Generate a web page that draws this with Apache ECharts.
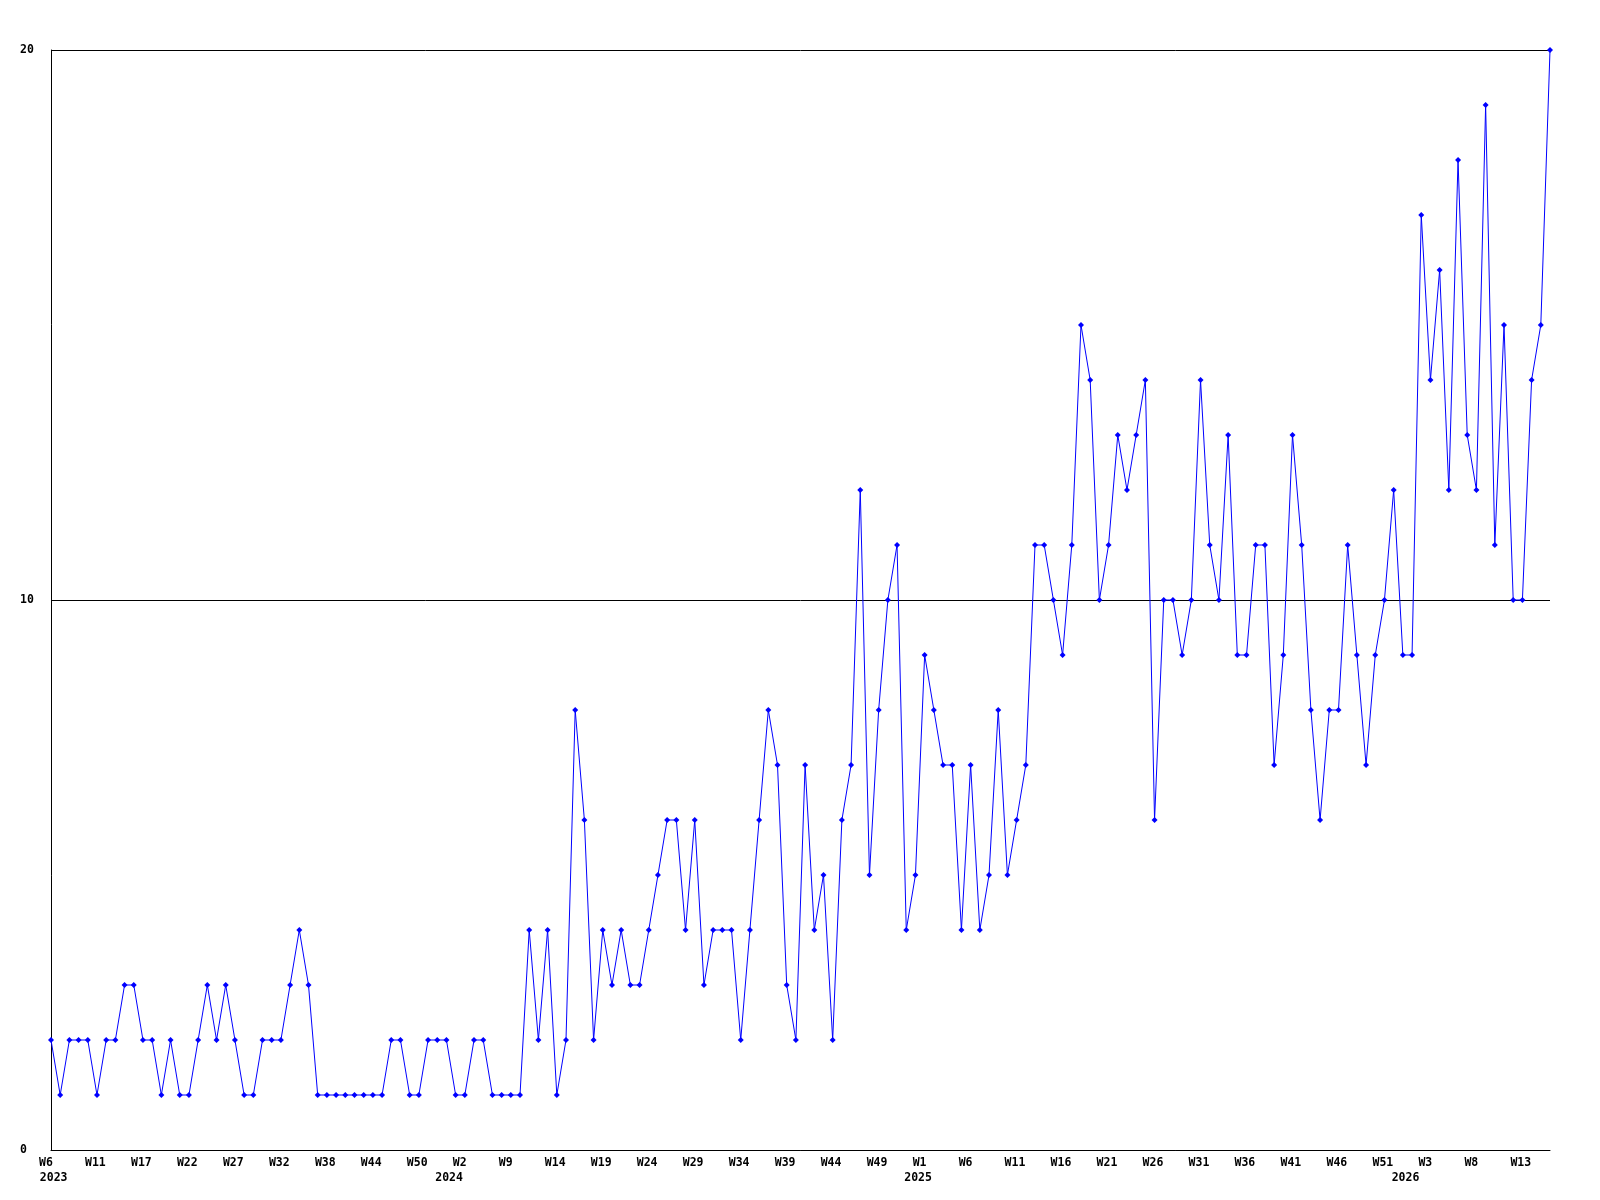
<!DOCTYPE html>
<html>
<head>
<meta charset="utf-8">
<script src="https://cdn.jsdelivr.net/npm/echarts@6/dist/echarts.min.js"></script>
<style>html,body{margin:0;padding:0;background:#fff}#c{width:1600px;height:1200px}</style>
</head>
<body>
<div id="c"></div>
<script>
// Weekly values, one per point (164 points, 2023 W6 .. 2026)
const values = [
  2,1,2,2,2,1,2,2,3,3,2,2,1,2,1,1,2,3,2,3,2,1,1,2,2,2,3,4,3,1,1,
  1,1,1,1,1,1,2,2,1,1,2,2,2,1,1,2,2,1,1,1,1,4,2,4,1,2,
  8,6,2,4,3,4,3,3,4,5,6,6,4,6,3,4,4,4,2,4,6,8,7,3,2,7,
  4,5,2,6,7,12,5,8,10,11,4,5,9,8,7,7,4,7,4,5,8,5,6,7,11,11,
  10,9,11,15,14,10,11,13,12,13,14,6,10,10,9,10,14,11,10,13,9,9,11,11,7,9,
  13,11,8,6,8,8,11,9,7,9,10,12,9,9,17,14,16,12,18,13,12,19,11,15,10,10,14,15,20
];
// Tick labels, one every 5 points
const tickLabels = ['W6','W11','W17','W22','W27','W32','W38','W44','W50','W2','W9','W14','W19','W24','W29','W34','W39','W44','W49','W1','W6','W11','W16','W21','W26','W31','W36','W41','W46','W51','W3','W8','W13'];
// Year labels and the point where each year starts
const yearLabels = ['2023','2024','2025','2026'];
const yearStart = [0, 43, 94, 147];
const yMin = 0, yMax = 20, yStep = 10;

const categories = values.map((v, i) => String(i));
const FONT = '"DejaVu Sans Mono", "Liberation Mono", monospace';
const FS = 11.5;

const chart = echarts.init(document.getElementById('c'), null, {renderer: 'canvas'});
chart.setOption({
  animation: false,
  backgroundColor: '#ffffff',
  grid: {left: 51, right: 50, top: 50, bottom: 50, containLabel: false},
  xAxis: [{
    type: 'category',
    data: categories,
    boundaryGap: false,
    position: 'bottom',
    axisLine: {show: true, lineStyle: {color: '#000', width: 1}},
    axisTick: {show: false},
    splitLine: {show: false},
    axisLabel: {
      interval: 4,
      margin: 6,
      align: 'center',
      formatter: function (v, i) {
        return '{w|' + tickLabels[Math.round(i / 5)] + '}';
      },
      rich: {
        w: {width: 24, align: 'left', fontFamily: FONT, fontSize: FS, fontWeight: 'bold', color: '#000', lineHeight: 14.5}
      }
    }
  }, {
    type: 'category',
    data: categories,
    boundaryGap: false,
    position: 'bottom',
    offset: 0,
    axisLine: {show: false},
    axisTick: {show: false},
    splitLine: {show: false},
    axisLabel: {
      interval: function (i) { return yearStart.indexOf(i) >= 0; },
      margin: 20.5,
      align: 'center',
      formatter: function (v, i) {
        const k = yearStart.indexOf(i);
        return k >= 0 ? '{y|' + yearLabels[k] + '}' : '';
      },
      rich: {
        y: {width: 33, align: 'right', fontFamily: FONT, fontSize: FS, fontWeight: 'bold', color: '#000', lineHeight: 14.5}
      }
    }
  }],
  yAxis: {
    type: 'value',
    min: yMin, max: yMax, interval: yStep,
    axisLine: {show: true, lineStyle: {color: '#000', width: 1}},
    axisTick: {show: false},
    splitLine: {show: true, lineStyle: {color: '#000', width: 1}},
    axisLabel: {align: 'left', margin: 31, fontFamily: FONT, fontSize: FS, fontWeight: 'bold', color: '#000'}
  },
  series: [{
    type: 'line',
    xAxisIndex: 0,
    data: values,
    showSymbol: true,
    symbol: 'diamond',
    symbolSize: 6,
    itemStyle: {color: '#0000ff'},
    lineStyle: {color: '#0000ff', width: 1},
    emphasis: {disabled: true}
  }]
});
</script>
</body>
</html>
